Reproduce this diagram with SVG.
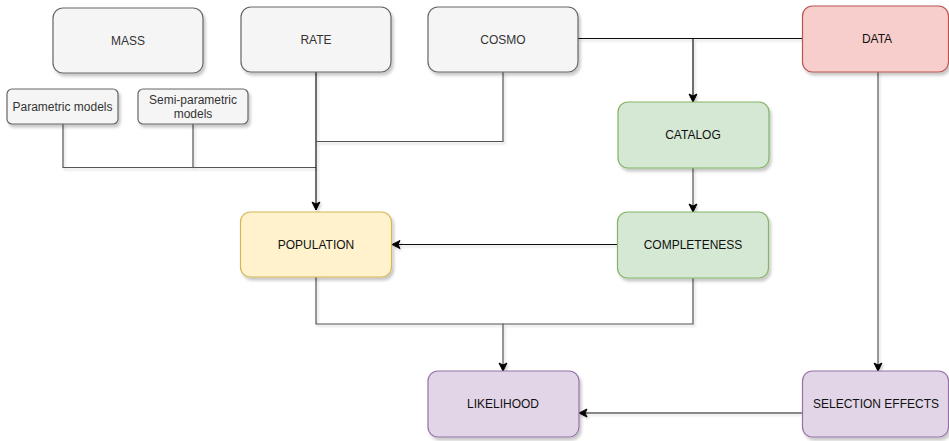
<svg xmlns="http://www.w3.org/2000/svg" width="949" height="441" viewBox="0 0 949 441">
<defs>
<filter id="sh" x="-10%" y="-10%" width="130%" height="140%">
<feDropShadow dx="2" dy="3" stdDeviation="1.5" flood-color="#000" flood-opacity="0.22"/>
</filter>
<filter id="esh" filterUnits="userSpaceOnUse" x="0" y="0" width="949" height="441">
<feDropShadow dx="1.5" dy="2" stdDeviation="1" flood-color="#000" flood-opacity="0.18"/>
</filter>
<marker id="arr" markerWidth="10" markerHeight="10" viewBox="0 0 10 10" refX="9" refY="5" orient="auto" markerUnits="userSpaceOnUse">
<path d="M1,1 L9,5 L1,9 L3,5 Z" fill="#000" stroke="#000" stroke-width="1"/>
</marker>
<style>
.n rect{filter:url(#sh);stroke-width:1.2}
.g rect{fill:#f5f5f5;stroke:#666666}
.g text{fill:#333333}
.r rect{fill:#f8cecc;stroke:#b85450}
.gr rect{fill:#d5e8d4;stroke:#82b366}
.y rect{fill:#fff2cc;stroke:#d6b656}
.p rect{fill:#e1d5e7;stroke:#9673a6}
text{font-family:"Liberation Sans",Arial,Helvetica,sans-serif;font-size:12px;text-anchor:middle;fill:#111}
.e{filter:url(#esh)}
.e path{fill:none;stroke:#555;stroke-width:1.2}
.e path.k{stroke:#111}
</style>
</defs>
<g class="e" id="connectors">
<path d="M63,124 V167.5 H316"/>
<path d="M193,124 V167.5"/>
<path d="M316,72 V210" class="k" marker-end="url(#arr)"/>
<path d="M503,72 V141.5 H316"/>
<path d="M578,38.5 H802" class="k"/>
<path d="M693,38.5 V102" class="k" marker-end="url(#arr)"/>
<path d="M693,168 V212" marker-end="url(#arr)"/>
<path d="M617,244.5 H392" class="k" marker-end="url(#arr)"/>
<path d="M316,277 V324 H503 V371" marker-end="url(#arr)"/>
<path d="M693,278 V324 H503"/>
<path d="M878,72 V371" marker-end="url(#arr)"/>
<path d="M802,413 H579" class="k" marker-end="url(#arr)"/>
</g>
<g id="mass" class="n g"><rect x="53" y="8" width="150" height="65" rx="10"/><text x="128" y="44.5">MASS</text></g>
<g id="rate" class="n g"><rect x="241" y="7" width="150" height="65" rx="10"/><text x="316" y="43.5">RATE</text></g>
<g id="cosmo" class="n g"><rect x="428" y="7" width="150" height="65" rx="10"/><text x="503" y="43.5">COSMO</text></g>
<g id="data" class="n r"><rect x="802.5" y="6" width="146" height="66" rx="10"/><text x="877" y="43">DATA</text></g>
<g id="parametric" class="n g"><rect x="7" y="89" width="111" height="35" rx="5"/><text x="62.5" y="110.5">Parametric models</text></g>
<g id="semiparametric" class="n g"><rect x="138" y="89" width="110" height="35" rx="5"/><text x="193" y="103.5">Semi-parametric</text><text x="193" y="117.5">models</text></g>
<g id="catalog" class="n gr"><rect x="618" y="102" width="151" height="66" rx="10"/><text x="693" y="139">CATALOG</text></g>
<g id="population" class="n y"><rect x="240.5" y="212" width="151" height="65" rx="10"/><text x="316" y="248.5">POPULATION</text></g>
<g id="completeness" class="n gr"><rect x="617.5" y="212" width="151" height="66" rx="10"/><text x="693" y="249">COMPLETENESS</text></g>
<g id="likelihood" class="n p"><rect x="428" y="371" width="151" height="66" rx="10"/><text x="503" y="408">LIKELIHOOD</text></g>
<g id="selection" class="n p"><rect x="802.5" y="371" width="146" height="66" rx="10"/><text x="876" y="408">SELECTION EFFECTS</text></g>
</svg>
